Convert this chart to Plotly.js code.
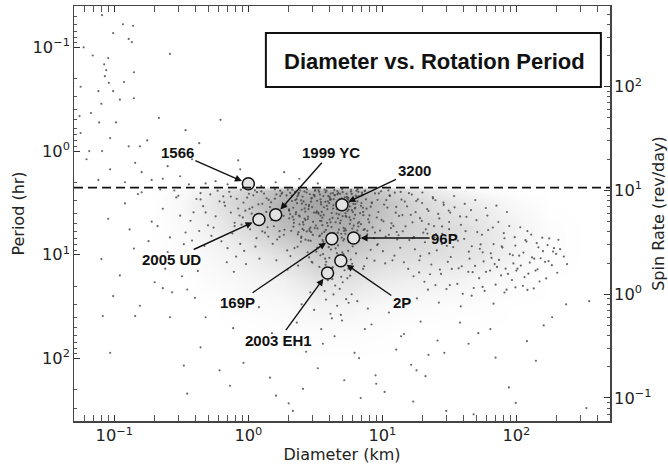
<!DOCTYPE html>
<html>
<head>
<meta charset="utf-8">
<script src="https://cdn.plot.ly/plotly-3.0.1.min.js"></script>
<style>html,body{margin:0;padding:0;background:#fff;}#chart{width:668px;height:467px;}</style>
</head>
<body>
<div id="chart"></div>
<script>
// ---------- DATA ----------
// Highlighted objects: diameter (km) and rotation period (hr)
const objectNames = ['1566', '1999 YC', '2005 UD', '3200', '169P', '96P', '2P', '2003 EH1'];
const objectDiam = [1.0, 1.6, 1.2, 5.0, 4.2, 6.1, 4.9, 3.9];
const objectPeriod = [2.07, 4.12, 4.57, 3.3, 7.0, 6.9, 11.4, 15.0];

// Spin barrier (dashed line), hr
const spinBarrierHr = 2.25;

// Background asteroid population, by region
const diamFast = [0.081,0.116,0.138,0.128,0.098,0.059,0.090,0.069,0.084,0.085,
 0.26,0.076,0.098,0.14,0.11,0.08,0.067,0.077,0.103,0.215,
 0.62,0.055,0.056,0.093,0.065,0.081,0.128,0.155,0.062,0.143,
 0.093,0.25,0.84,0.87,0.076,0.19,0.23,0.48,0.57,1.25,
 0.135,0.087,0.14,0.056,0.34,0.176,0.43,1.85,0.091,0.118,
 0.31,0.38,0.7,0.95,1.6,2.4,3.3,0.16,0.12,0.36];
const periodFast = [0.049,0.060,0.062,0.083,0.073,0.10,0.127,0.12,0.146,0.19,
 0.116,0.265,0.265,0.31,0.32,0.35,0.43,0.53,0.53,0.48,
 0.50,0.46,0.67,0.75,1.0,1.0,0.9,0.9,1.2,1.3,
 1.5,1.4,1.23,1.5,1.9,1.9,1.85,2.05,1.95,2.18,
 0.089,0.166,0.174,0.24,0.63,0.79,0.84,1.6,0.22,0.216,
 1.75,1.2,2.1,1.9,2.0,1.85,2.05,1.6,2.0,2.1];

const diamCore = [1.25,1.48,1.73,2.05,2.38,2.81,3.34,3.92,4.61,5.47,
 6.42,7.55,8.81,1.36,1.62,1.91,2.24,2.63,3.11,3.65,
 4.29,5.06,5.93,6.98,8.19,1.29,1.55,1.83,2.16,2.53,
 2.97,3.49,4.11,4.83,5.68,6.67,7.84,9.21,1.42,1.68,
 1.97,2.32,2.73,3.21,3.77,4.43,5.21,6.12,7.19,8.46,
 1.33,1.58,1.86,2.19,2.58,3.03,3.57,4.19,4.93,5.79,
 6.81,8.01,1.45,1.71,2.01,2.37,2.79,3.28,3.86,4.54,
 5.34,6.28,7.39,8.69,1.27,1.52,1.79,2.11,2.48,2.92,
 3.43,4.04,4.75,5.59,6.57,7.73,9.09,1.39,1.64,1.93,
 2.27,2.67,3.14,3.69,4.34,5.11,6.01,7.07,8.32,1.31,
 2.05,2.44,2.88,3.37,3.95,4.62,5.41,6.33,2.12,2.51,
 2.96,3.48,4.07,4.76,5.57,6.52,2.02,2.39,2.83,3.32,
 3.89,4.55,5.33,6.24,2.18,2.58,3.04,3.57,4.18,4.89,
 5.73,6.71,2.09,2.47,2.91,3.42,4.01,4.69,5.49,6.43,
 2.23,2.63,3.09,3.63,4.25,4.98,5.83,6.83,2.14,2.54,
 2.99,3.51,4.12,4.83,5.65,6.62,2.31,2.72,3.19,3.75,
 4.39,5.14,6.02,7.05,2.26,2.66,3.13,3.67,4.31,5.05,
 5.91,6.93,2.36,2.78,3.26,3.83,4.48,5.25,6.15,7.21,
 2.41,2.84,3.34,3.92,4.59,5.38,6.3,7.38,2.5,2.94,
 3.45,4.05,4.74,5.55,6.5,7.62,2.02,2.59,3.54,4.65,
 1.58,2.13,2.74,3.16,3.71,4.38,5.02,5.86,6.55,7.43,
 1.77,2.29,2.69,3.07,3.53,4.14,4.71,5.44,6.08,7.02,
 1.88,2.42,2.94,3.46,4.06,4.66,5.31,6.27,7.16,8.38,
 1.49,2.01,2.56,3.13,3.79,4.52,5.18,5.97,6.92,7.98,
 1.67,2.17,2.62,3.24,3.87,4.28,4.97,5.71,6.62,7.71,
 2.34,2.86,3.39,3.96,4.58,5.29,6.09,1.73,2.47,3.58,
 11.3,12.7,14.1,15.8,17.7,19.8,22.2,24.9,27.9,31.3,
 10.2,11.6,13.2,14.9,16.9,19.1,21.7,24.5,27.8,31.5,
 1.16,1.37,0.88,1.02,0.74,0.66,1.27,0.91,1.41,0.79,
 3.27,4.41,5.13,3.74,2.77,4.89,3.62,4.23,5.58,2.97];
const periodCore = [2.45,3.12,2.71,4.05,2.52,3.63,2.38,3.05,2.61,2.84,
 2.41,2.93,2.56,3.86,2.62,3.34,2.97,4.48,2.66,4.12,
 3.58,2.49,3.71,3.17,3.44,4.73,5.31,4.21,3.52,5.62,
 2.83,3.27,4.87,2.58,4.36,2.72,4.55,2.95,2.96,3.83,
 2.36,2.74,5.96,3.93,2.49,2.67,3.21,5.24,3.86,5.45,
 6.12,2.88,5.74,4.92,3.06,6.43,5.18,3.96,6.27,4.63,
 6.55,4.17,3.47,6.73,3.64,2.55,4.29,5.57,3.37,7.02,
 5.83,3.52,2.44,6.91,3.23,4.46,2.52,2.69,6.88,7.34,
 4.71,2.76,4.08,3.67,4.98,5.87,4.37,5.43,7.12,2.68,
 3.88,4.63,2.42,6.02,2.91,7.28,7.58,2.61,3.14,2.57,
 2.53,2.39,2.61,2.47,2.71,2.43,2.58,2.69,3.03,3.21,
 2.87,3.11,2.95,3.36,2.82,3.06,3.74,4.18,3.41,3.92,
 3.63,4.01,4.22,3.57,4.58,5.12,4.81,4.39,5.41,4.67,
 5.03,4.84,5.88,2.98,5.46,2.63,3.17,2.55,3.79,2.77,
 2.48,3.57,3.92,2.72,4.41,3.28,2.46,3.96,4.29,2.75,
 3.47,4.73,2.57,4.96,3.12,5.34,3.18,2.51,5.22,3.09,
 2.66,5.51,3.86,2.52,4.06,3.83,2.74,3.48,3.33,4.24,
 2.59,3.37,2.64,4.52,3.02,2.41,4.86,2.79,4.47,4.15,
 5.09,3.31,4.02,5.26,3.64,4.32,3.24,5.67,3.68,6.06,
 2.92,4.57,5.71,2.94,5.84,3.59,4.45,5.78,6.24,6.12,
 2.33,2.36,2.34,2.37,2.35,2.38,2.33,2.36,2.34,2.4,
 2.58,2.91,3.28,2.64,3.86,2.93,3.49,2.76,3.23,2.69,
 3.36,4.27,3.08,4.19,2.85,4.45,3.98,4.12,3.52,3.16,
 4.62,3.74,4.85,5.52,5.76,3.16,5.89,5.58,5.07,4.88,
 3.95,5.36,2.45,3.82,4.92,2.54,2.86,3.42,2.47,6.36,
 6.35,5.87,6.61,6.53,6.84,6.27,7.06,2.41,7.48,7.21,
 2.67,3.46,4.14,2.55,3.88,3.17,5.06,2.98,5.33,3.75,
 4.76,5.53,6.48,5.32,6.91,4.44,6.24,6.78,7.86,5.66,
 2.49,2.85,2.36,3.61,2.75,3.12,5.94,4.36,6.67,5.29,
 8.53,7.72,9.86,10.9,9.45,12.8,14.7,17.2,13.6,11.7];

const diamCoreLow = [1.52,1.84,2.21,2.67,3.22,3.88,4.67,5.63,6.79,8.18,
 3.61,4.02,4.48,4.99,5.56,3.77,4.21,4.69,5.22,5.82,
 1.71,2.06,2.49,3.01,3.63,4.37,5.27,6.36,7.67,9.25,
 2.33,2.81,3.39,4.09,4.93,5.95,7.18,1.95,2.35,2.84,
 3.42,4.13,4.98,6.01,7.25,8.74,3.92,4.45,5.06,5.75,
 1.62,1.96,2.37,2.86,3.45,4.16,5.02,6.06,7.31,8.82,
 3.71,4.32,4.81,5.37,3.98,4.58,5.18,4.27,3.81,5.48];
const periodCoreLow = [7.84,6.41,8.62,7.15,9.33,6.77,8.12,7.46,6.91,8.95,
 9.84,10.7,8.67,11.6,9.15,12.5,13.4,10.2,14.1,11.1,
 5.92,10.3,6.68,11.9,7.52,6.23,5.61,9.71,10.8,7.88,
 8.37,7.27,13.1,15.2,16.3,12.2,13.7,9.07,12.7,10.6,
 6.53,8.91,6.84,8.28,5.76,11.4,17.6,19.8,18.4,15.9,
 11.3,13.9,6.05,5.64,10.1,7.68,9.49,6.48,12.9,6.11,
 22.4,24.1,21.3,26.8,8.44,9.62,7.05,13.2,11.7,16.8];

const diamEdge = [0.52,0.61,0.72,0.84,0.98,1.12,0.57,0.67,0.79,0.92,
 1.06,1.19,0.48,0.55,0.65,0.76,0.89,1.03,1.17,0.63,
 0.74,0.87,1.01,1.15,0.44,0.59,0.7,0.82,0.95,1.09,
 0.81,0.93,1.13,0.69,0.53,0.96,1.21,0.78,0.86,1.07,
 9.42,10.3,11.4,12.6,13.9,9.87,10.9,12.1,13.3,14.7,
 9.61,10.6,11.7,12.9,14.2,9.15,10.1,11.2,12.3,13.6,
 9.78,11.1,12.4,13.7,10.5,11.9,14.5,9.33,10.7,12.8];
const periodEdge = [2.62,3.05,2.47,3.58,2.81,2.39,4.26,3.37,4.92,3.14,
 4.01,3.26,3.91,5.47,2.73,6.22,5.11,5.68,4.47,7.41,
 3.92,7.86,2.58,6.92,2.93,2.41,8.63,2.89,3.76,2.67,
 10.4,9.17,8.36,11.8,6.58,12.3,10.9,14.6,4.18,3.49,
 2.56,3.28,2.71,3.93,2.94,4.61,3.51,5.27,4.22,3.07,
 5.84,6.67,4.98,7.12,5.93,8.07,9.23,6.41,10.2,8.55,
 2.44,2.39,2.52,2.48,12.1,11.3,11.8,3.87,2.97,6.03];

const diamWing = [15.3,16.8,18.4,20.2,22.1,24.3,26.6,29.2,32.1,35.2,
 38.6,42.4,46.5,51.1,56.1,61.6,67.6,74.2,81.5,89.5,
 98.3,108,119,131,144,158,174,191,15.9,17.5,
 19.2,21.1,23.2,25.5,28.0,30.8,33.8,37.1,40.8,44.8,
 49.2,54.1,59.4,65.3,71.7,78.8,86.6,95.1,105,115,
 126,139,152,167,184,202,16.3,17.9,19.7,21.6,
 23.8,26.1,28.7,31.5,34.6,38.0,41.8,45.9,50.4,55.4,
 60.8,66.8,73.4,80.6,88.6,97.3,107,117,129,142,
 156,171,188,206,226,15.6,17.1,18.8,20.6,22.7,
 24.9,27.4,30.1,33.0,36.3,39.8,43.8,48.1,52.8,58.0,
 63.7,70.0,76.9,84.5,92.8,102,112,123,135,149,
 18.1,21.9,26.4,31.9,38.5,46.4,56.0,67.6,81.6,98.5,
 16.6,19.9,23.9,28.6,34.3,41.2,49.4,59.2,71.0,85.1,
 17.2,20.8,25.1,30.3,36.6,44.2,53.4,64.5,77.9,94.1,
 113,136,164,198,239,121,146,176,212,18.9,
 22.4,26.9,32.4,39.1,47.2,57.0,68.9,83.2,100,121];
const periodWing = [3.41,4.87,2.93,6.12,3.78,5.29,4.46,7.63,3.92,6.58,
 5.14,4.31,8.27,6.04,9.46,5.77,7.88,11.2,6.93,9.84,
 8.15,12.7,7.46,10.6,13.8,9.22,11.5,8.64,7.21,8.86,
 10.3,5.68,12.4,9.05,6.27,11.7,8.43,13.5,7.02,10.9,
 12.8,7.94,14.6,10.7,13.1,8.52,15.3,12.1,10.2,16.4,
 11.9,14.2,10.8,16.9,12.6,14.9,4.12,3.03,4.72,3.62,
 2.78,4.04,3.31,4.83,3.49,4.27,5.92,3.71,4.64,6.41,
 4.19,5.46,4.83,6.17,5.28,6.76,5.43,7.22,6.38,7.71,
 6.84,8.07,9.31,7.18,10.4,13.7,16.1,14.8,18.2,15.4,
 19.6,15.3,21.4,13.7,19.1,23.8,14.6,20.9,16.8,22.3,
 14.2,19.4,15.8,21.7,17.5,13.6,19.9,15.2,21.1,18.1,
 26.3,21.7,28.9,19.6,31.4,24.8,20.4,29.6,23.1,20.6,
 2.63,2.51,2.86,3.14,2.72,3.23,2.97,3.54,3.36,3.87,
 6.72,7.57,6.31,8.19,7.31,9.34,8.76,9.68,8.31,10.1,
 9.53,10.9,11.7,9.82,12.3,5.91,8.47,6.95,8.83,11.3,
 9.71,13.9,10.5,12.9,14.7,11.6,12.3,13.6,14.2,21.8];

const diamSlow = [0.098,0.082,0.155,0.143,0.093,0.33,0.73,0.35,0.61,1.45,
 2.56,1.61,2.15,0.44,0.23,0.26,0.48,0.77,333,99,
 30,48,6.7,18,9,140,185,70,235,350,
 3.1,4.2,5.6,7.4,2.3,1.9,3.6,4.9,6.2,8.3,
 11.2,14.5,19.3,25.8,12.7,16.4,22.1,8.9,10.4,13.8,
 1.2,1.5,2.7,3.3,4.4,5.2,6.9,0.92,1.08,2.0,
 38,52,44,64,29,21,17,120,160,88,
 3.8,4.6,5.9,2.9,7.8,4.1,5.0,3.5,6.5,2.5];
const periodSlow = [25,39,31,39,88,117,183,218,130,153,
 196,228,320,78,21,40,40,51,300,268,
 320,345,99,130,175,105,40,98,30,28,
 34,41,29,52,45,63,72,38,88,47,
 36,58,44,67,82,115,92,145,210,61,
 32,57,86,124,61,162,240,110,74,270,
 45,57,72,52,88,148,260,68,48,190,
 27,31,24,23,33,37,43,52,28,30];

const diamSmall = [0.12,0.15,0.19,0.23,0.28,0.34,0.41,0.14,0.17,0.21,
 0.25,0.31,0.38,0.46,0.11,0.13,0.16,0.2,0.24,0.29,
 0.36,0.43,0.26,0.32,0.39,0.47,0.22,0.18,0.35,0.42,
 0.09,0.08,0.3,0.27,0.44,0.37,0.21,0.5,0.4,0.33];
const periodSmall = [3.2,2.6,4.8,3.6,2.4,6.1,2.9,8.7,12.3,5.3,
 9.4,4.2,7.3,3.4,15.8,5.7,2.5,18.4,13.6,2.8,
 11.2,5.9,6.8,16.1,3.9,8.2,2.35,7.4,21.6,14.3,
 4.5,11,2.7,23,2.55,4.7,10.8,5.2,26,7.9];

// Relative point density of the population
const densityDiam = [0.056, 0.1, 0.18, 0.32, 0.56, 1.0, 1.8, 3.2, 5.6, 10, 18, 32, 56, 100, 178, 316];
const densityPeriod = [0.1, 0.56, 1.6, 2.15, 2.4, 3.2, 5.6, 10, 18, 32, 56, 100, 300];
const densityGrid = [
 [0,0,0,0,0,0,0,0,0,0,0,0,0,0,0,0],
 [0,0,0,0,0,0,0,0,0,0,0,0,0,0,0,0],
 [0,0,0,0,0,0,0,0,0,0,0,0,0,0,0,0],
 [0,0,0,0,0,0,0,0,0,0,0,0,0,0,0,0],
 [0,0,0,0.05,0.25,0.5,0.78,0.9,0.85,0.6,0.32,0.14,0.05,0,0,0],
 [0,0,0,0.08,0.3,0.58,0.88,1.0,0.95,0.7,0.45,0.3,0.18,0.07,0,0],
 [0,0,0,0.06,0.2,0.42,0.72,0.88,0.88,0.62,0.48,0.4,0.3,0.14,0.03,0],
 [0,0,0,0.03,0.1,0.2,0.36,0.58,0.58,0.42,0.38,0.34,0.28,0.13,0.03,0],
 [0,0,0,0,0.05,0.1,0.15,0.32,0.32,0.22,0.17,0.14,0.09,0.04,0,0],
 [0,0,0,0,0,0.04,0.06,0.12,0.12,0.07,0.05,0.03,0.02,0,0,0],
 [0,0,0,0,0,0,0.02,0.04,0.04,0.02,0,0,0,0,0,0],
 [0,0,0,0,0,0,0,0,0,0,0,0,0,0,0,0],
 [0,0,0,0,0,0,0,0,0,0,0,0,0,0,0,0]
];

// Axis tick labels
const tickAlias = {'1': '10<sup>0</sup>', '10': '10<sup>1</sup>'};

// ---------- CHART ----------
const popDiam = [].concat(diamFast, diamCore, diamCoreLow, diamEdge, diamWing, diamSlow, diamSmall);
const popPeriod = [].concat(periodFast, periodCore, periodCoreLow, periodEdge, periodWing, periodSlow, periodSmall);

const log10 = Math.log10;

const traces = [
  {
    type: 'heatmap', x: densityDiam, y: densityPeriod, z: densityGrid,
    zmin: 0, zmax: 1, zsmooth: 'best', showscale: false, hoverinfo: 'skip',
    colorscale: [[0, 'rgba(105,105,105,0)'], [1, 'rgba(105,105,105,0.6)']],
    xaxis: 'x', yaxis: 'y'
  },
  {
    type: 'scatter', mode: 'markers', x: popDiam, y: popPeriod,
    marker: {size: 2.2, color: '#444', opacity: 0.8, line: {width: 0}},
    hoverinfo: 'skip', xaxis: 'x', yaxis: 'y'
  },
  {
    type: 'scatter', mode: 'markers', x: objectDiam, y: objectPeriod, text: objectNames,
    marker: {size: 12, color: '#e2e2e2', line: {color: '#111', width: 1.5}},
    xaxis: 'x', yaxis: 'y'
  },
  {
    type: 'scatter', mode: 'markers', x: objectDiam, y: objectPeriod.map(p => 24 / p),
    marker: {size: 1, opacity: 0}, hoverinfo: 'skip', xaxis: 'x', yaxis: 'y2'
  }
];

const tickFont = {family: 'DejaVu Sans', size: 13, color: '#222'};
const axisCommon = {
  type: 'log', dtick: 1, exponentformat: 'power', labelalias: tickAlias,
  ticks: 'inside', ticklen: 6, tickwidth: 1, tickcolor: '#333',
  minor: {ticks: 'inside', ticklen: 3, tickwidth: 1, tickcolor: '#555', showgrid: false},
  showgrid: false, zeroline: false, showline: true, linecolor: '#444', linewidth: 1.5,
  tickfont: tickFont
};

const labelOffsets = {
  '1566': [-71, -31], '1999 YC': [55, -62], '2005 UD': [-87, 40], '3200': [72, -34],
  '169P': [-94, 64], '96P': [91, 0], '2P': [61, 42], '2003 EH1': [-49, 67]
};
const annotations = objectNames.map((name, i) => ({
  x: log10(objectDiam[i]), y: log10(objectPeriod[i]), xref: 'x', yref: 'y',
  text: '<b>' + name + '</b>', showarrow: true, ax: labelOffsets[name][0], ay: labelOffsets[name][1],
  arrowhead: 2, arrowsize: 1, arrowwidth: 1.4, arrowcolor: '#111', standoff: 7,
  font: {family: 'Liberation Sans, Arial, sans-serif', size: 15, color: '#111'}
}));
annotations.push({
  xref: 'paper', yref: 'paper', x: 0.6735, y: 0.866, xanchor: 'center', yanchor: 'middle',
  text: '<b>Diameter vs. Rotation Period</b>', showarrow: false,
  font: {family: 'Liberation Sans, Arial, sans-serif', size: 22, color: '#111'}
});

const layout = {
  width: 668, height: 467,
  margin: {l: 74, r: 58, t: 6, b: 46},
  paper_bgcolor: '#fff', plot_bgcolor: '#fff',
  showlegend: false,
  font: {family: 'DejaVu Sans', size: 13, color: '#222'},
  xaxis: Object.assign({}, axisCommon, {
    range: [log10(0.05), log10(500)], mirror: 'allticks',
    title: {text: 'Diameter (km)', font: {family: 'DejaVu Sans', size: 16, color: '#222'}, standoff: 0}
  }),
  yaxis: Object.assign({}, axisCommon, {
    range: [log10(400), log10(0.04)],
    title: {text: 'Period (hr)', font: {family: 'DejaVu Sans', size: 16, color: '#222'}, standoff: 4}
  }),
  yaxis2: Object.assign({}, axisCommon, {
    range: [log10(24 / 400), log10(24 / 0.04)], overlaying: 'y', side: 'right', anchor: 'x',
    title: {text: 'Spin Rate (rev/day)', font: {family: 'DejaVu Sans', size: 16, color: '#222'}, standoff: 10}
  }),
  shapes: [
    {type: 'line', xref: 'paper', x0: 0, x1: 1, yref: 'y', y0: spinBarrierHr, y1: spinBarrierHr,
     line: {color: '#111', width: 1.6, dash: '9px,5px'}},
    {type: 'rect', xref: 'paper', yref: 'paper', x0: 0.358, x1: 0.983, y0: 0.805, y1: 0.935,
     line: {color: '#111', width: 2}, fillcolor: 'rgba(255,255,255,0)'}
  ],
  annotations: annotations
};

Plotly.newPlot('chart', traces, layout, {displayModeBar: false, staticPlot: true});
</script>
</body>
</html>
